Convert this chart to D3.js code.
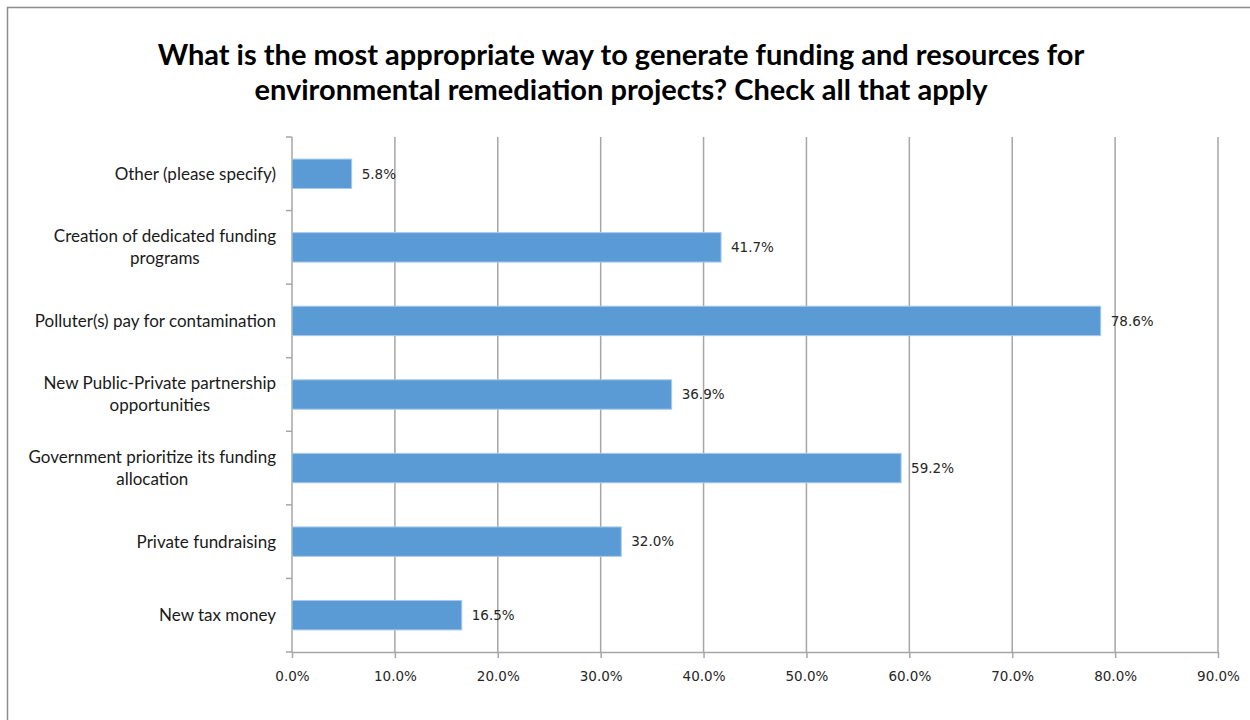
<!DOCTYPE html>
<html>
<head>
<meta charset="utf-8">
<script src="https://cdn.jsdelivr.net/npm/d3@7/dist/d3.min.js"></script>
<style>
  body { margin: 0; background: #fff; }
  svg { display: block; }
</style>
</head>
<body>
<svg id="chart" width="1250" height="720"></svg>
<script>
// Survey responses (share of respondents), listed top to bottom
const categories = [
  ["Other (please specify)"],
  ["Creation of dedicated funding", "programs"],
  ["Polluter(s) pay for contamination"],
  ["New Public-Private partnership", "opportunities"],
  ["Government prioritize its funding", "allocation"],
  ["Private fundraising"],
  ["New tax money"]
];
const values = [0.058, 0.417, 0.786, 0.369, 0.592, 0.320, 0.165];
const xTicks = [0, 0.1, 0.2, 0.3, 0.4, 0.5, 0.6, 0.7, 0.8, 0.9];
const titleLines = [
  "What is the most appropriate way to generate funding and resources for",
  "environmental remediation projects? Check all that apply"
];

(function () {
const svg = d3.select("#chart");
const plotLeft = 292, plotRight = 1218, plotTop = 137, plotBottom = 652;
const gridColor = "#a6a6a6";
const labelFont = "Lato, 'Liberation Sans', sans-serif";
const numFont = "'DejaVu Sans', Verdana, sans-serif";

// chart frame
svg.append("rect")
  .attr("x", 7.5).attr("y", 7.5)
  .attr("width", 1300).attr("height", 800)
  .attr("fill", "#fff").attr("stroke", "#8c8c8c").attr("stroke-width", 1.5);

// title
svg.append("text")
  .attr("text-anchor", "middle")
  .attr("font-family", labelFont)
  .attr("font-weight", "bold")
  .attr("font-size", 29)
  .attr("fill", "#000")
  .selectAll("tspan").data(titleLines).join("tspan")
  .attr("x", 621)
  .attr("y", (d, i) => 65 + i * 35)
  .text(d => d);

const x = d3.scaleLinear().domain([0, 0.9]).range([plotLeft, plotRight]);
const y = d3.scaleBand()
  .domain(d3.range(categories.length))
  .range([plotTop, plotBottom])
  .paddingInner(0.6).paddingOuter(0.3);

// vertical gridlines
svg.append("g").selectAll("line").data(xTicks.slice(1)).join("line")
  .attr("x1", d => x(d)).attr("x2", d => x(d))
  .attr("y1", plotTop).attr("y2", plotBottom)
  .attr("stroke", gridColor).attr("stroke-width", 1.5);

// x axis
const xAxis = d3.axisBottom(x)
  .tickValues(xTicks)
  .tickFormat(d3.format(".1%"))
  .tickSize(6).tickSizeOuter(0);
const gx = svg.append("g")
  .attr("transform", `translate(0,${plotBottom})`)
  .call(xAxis);
gx.select(".domain").attr("stroke", gridColor).attr("stroke-width", 1.5);
gx.selectAll(".tick line").attr("stroke", gridColor).attr("stroke-width", 1.5);
gx.selectAll(".tick text")
  .attr("font-family", numFont).attr("font-size", 13.5)
  .attr("fill", "#262626").attr("dy", "1.45em");

// y axis: category boundaries marked with ticks
const step = y.step();
const boundaries = d3.range(categories.length + 1).map(i => plotTop + i * step);
const gy = svg.append("g");
gy.append("line")
  .attr("x1", plotLeft).attr("x2", plotLeft).attr("y1", plotTop).attr("y2", plotBottom)
  .attr("stroke", gridColor).attr("stroke-width", 1.5);
gy.selectAll("line.tk").data(boundaries).join("line")
  .attr("class", "tk")
  .attr("x1", plotLeft - 6).attr("x2", plotLeft)
  .attr("y1", d => d).attr("y2", d => d)
  .attr("stroke", gridColor).attr("stroke-width", 1.5);

// bars
svg.append("g").selectAll("rect").data(values).join("rect")
  .attr("x", x(0))
  .attr("y", (d, i) => y(i))
  .attr("width", d => x(d) - x(0))
  .attr("height", y.bandwidth())
  .attr("fill", "#5b9bd5")
  .attr("stroke", "#a9c9ea").attr("stroke-width", 1);

// value labels
svg.append("g").selectAll("text").data(values).join("text")
  .attr("x", d => x(d) + 10)
  .attr("y", (d, i) => y(i) + y.bandwidth() / 2)
  .attr("dy", "0.35em")
  .attr("font-family", numFont).attr("font-size", 13.5)
  .attr("fill", "#262626")
  .text(d => d3.format(".1%")(d));

// category labels: lines centred within a block that ends at the axis
const catG = svg.append("g")
  .attr("font-family", labelFont).attr("font-size", 17).attr("fill", "#1a1a1a");
categories.forEach((lines, i) => {
  const cy = y(i) + y.bandwidth() / 2;
  const t = catG.append("text").attr("text-anchor", "middle");
  const lineH = 22;
  const spans = t.selectAll("tspan").data(lines).join("tspan")
    .attr("y", (d, j) => cy + (j - (lines.length - 1) / 2) * lineH)
    .attr("dy", "0.35em")
    .text(d => d);
  const w = d3.max(spans.nodes().map(n => n.getComputedTextLength()));
  spans.attr("x", 276 - w / 2);
});
})();
</script>
</body>
</html>
